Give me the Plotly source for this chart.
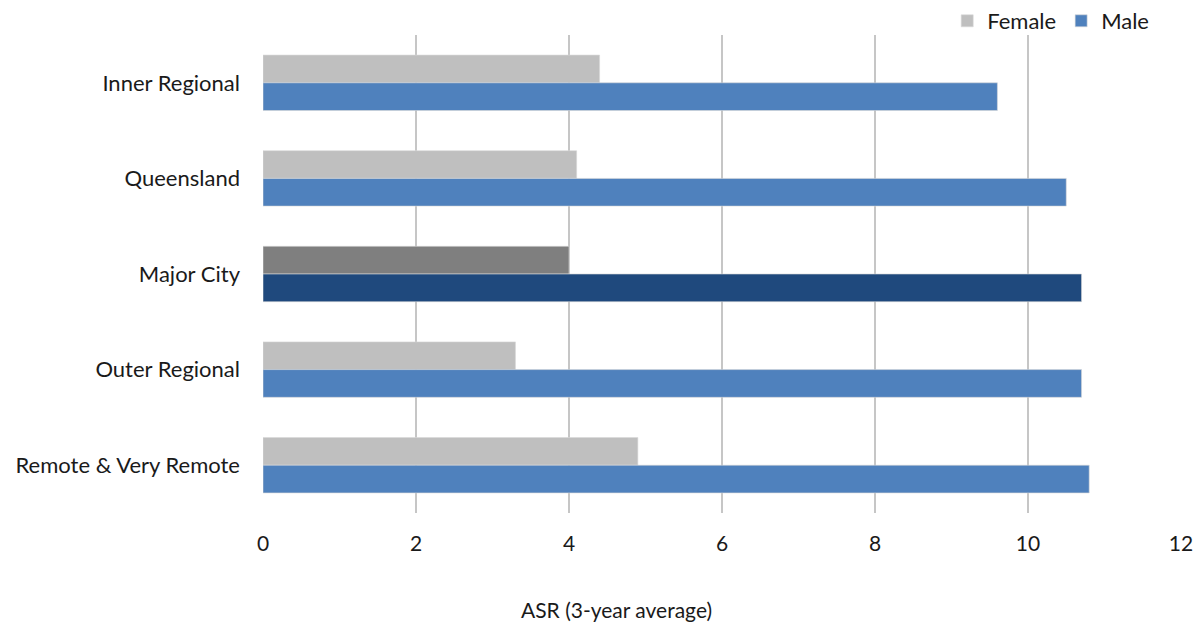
import plotly.graph_objects as go

categories = ["Inner Regional", "Queensland", "Major City", "Outer Regional", "Remote & Very Remote"]
female = [4.4, 4.1, 4.0, 3.3, 4.9]
male = [9.6, 10.5, 10.7, 10.7, 10.8]
x_ticks = [0, 2, 4, 6, 8, 10, 12]

female_colors = ["#bfbfbf", "#bfbfbf", "#7f7f7f", "#bfbfbf", "#bfbfbf"]
male_colors = ["#4f81bd", "#4f81bd", "#1f497d", "#4f81bd", "#4f81bd"]

FONT = "Lato, Carlito, Calibri, 'Open Sans', sans-serif"

fig = go.Figure()
fig.add_trace(go.Bar(
    y=categories, x=female, name="Female", orientation="h",
    marker=dict(color=female_colors, line=dict(color="#d9d9d9", width=0.6)),
))
fig.add_trace(go.Bar(
    y=categories, x=male, name="Male", orientation="h",
    marker=dict(color=male_colors, line=dict(color="#d9d9d9", width=0.6)),
))

# page body has an 8px offset, margins compensate for it
L, T, B, R = 255, 27, 121, 31
plot_w = 1204 - L - R
plot_h = 626 - T - B

fig.update_layout(
    width=1204, height=626,
    margin=dict(l=L, r=R, t=T, b=B, autoexpand=False),
    paper_bgcolor="white", plot_bgcolor="white",
    barmode="group", bargap=0.42, bargroupgap=0,
    font=dict(family=FONT, size=22, color="#1a1a1a"),
    showlegend=True,
    legend=dict(
        orientation="h", xref="container", yref="container",
        x=0.952, xanchor="right", y=1 - 13 / 626, yanchor="middle",
        font=dict(size=22), traceorder="normal", itemwidth=30,
        bgcolor="rgba(0,0,0,0)",
    ),
    xaxis=dict(
        range=[0, 12], tickvals=x_ticks, ticktext=[str(t) for t in x_ticks],
        showgrid=True, gridcolor="#c6c6c6", gridwidth=1.6,
        zeroline=False, showline=False, ticks="", ticklabelstandoff=16,
        tickfont=dict(size=21), automargin=False,
    ),
    yaxis=dict(
        autorange="reversed", showgrid=False, showline=False, ticks="",
        ticklabelstandoff=22, tickfont=dict(size=22), automargin=False,
    ),
    annotations=[dict(
        text="ASR (3-year average)", xref="paper", yref="paper",
        x=(608 - L) / plot_w, y=((626 - B) - 601) / plot_h,
        yanchor="middle", xanchor="center",
        showarrow=False, font=dict(size=21),
    )],
)

fig.write_html("out.html")
